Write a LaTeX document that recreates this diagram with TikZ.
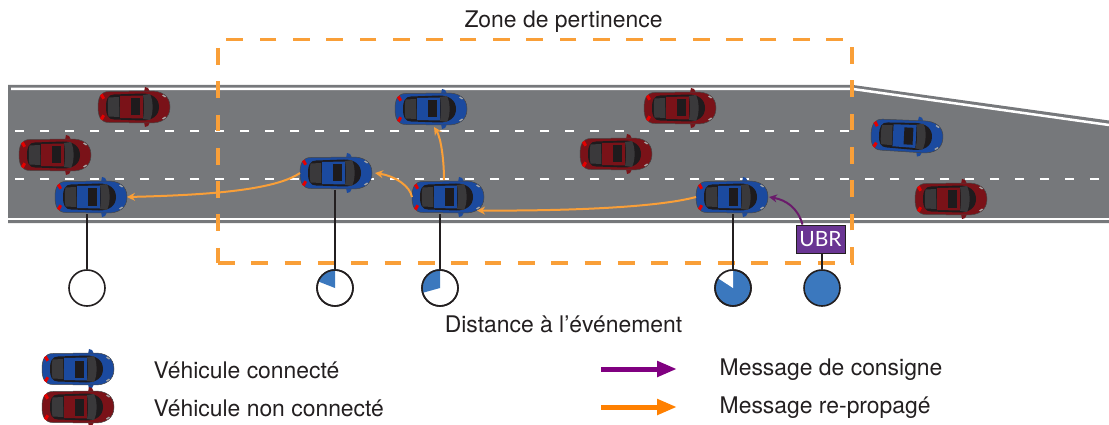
\documentclass[tikz,border=0pt]{standalone}
\usepackage{fontspec}
\setmainfont{TeX Gyre Heros}
\newfontfamily\ubrfont{Lato}
\usetikzlibrary{arrows.meta}
\definecolor{road}{HTML}{76787B}
\definecolor{zone}{HTML}{F99F38}
\definecolor{carblue}{HTML}{1B4A9F}
\definecolor{carred}{HTML}{7A1218}
\definecolor{cabin}{HTML}{1E1B1D}
\definecolor{glass}{HTML}{3A393B}
\definecolor{disc}{HTML}{3B78BE}
\definecolor{ubr}{HTML}{6A3593}
\definecolor{relay}{HTML}{F99F38}
\definecolor{order}{HTML}{6A1B6B}
\definecolor{inkline}{HTML}{231F20}
\definecolor{legendpurple}{HTML}{800080}
\definecolor{legendorange}{HTML}{FF8000}
\tikzset{
  carbox/.style={minimum width=72pt,minimum height=34pt,inner sep=0pt,outer sep=0pt},
  gauge/.style={circle,draw=inkline,line width=1.6pt,minimum size=36pt,inner sep=0pt},
  stem/.style={draw=inkline,line width=1.5pt},
  relayarrow/.style={draw=relay,line width=2pt,-{Stealth[length=8pt,width=8pt]}},
  orderarrow/.style={draw=order,line width=2pt,-{Stealth[length=8pt,width=8pt]}},
  txt/.style={font=\fontsize{22.9pt}{24pt}\selectfont,text=inkline,inner sep=0pt},
  lane/.style={draw=white,line width=2.5pt,dash pattern=on 8.5pt off 16.5pt},
  legendarrow/.style={line width=5pt,-{Triangle[length=20pt,width=15pt]}},
}
% name, x, y, body colour, rotation (screen clockwise positive)
\newcommand{\vehicle}[5]{%
  \node[carbox] (#1) at (#2,#3) {};
  \begin{scope}[shift={(#2,#3)},rotate=-#5]
    \fill[#4] (10,-15) -- (11,-20) -- (14,-19) -- (16,-15) -- cycle;
    \fill[#4] (10,15) -- (11,20) -- (14,19) -- (16,15) -- cycle;
    \fill[#4,draw=gray!55!black,line width=.5pt]
      (-36,0) .. controls (-36,-10) and (-33,-15.5) .. (-25,-15.5)
      -- (15,-16) .. controls (28,-16.5) and (36,-11) .. (36,0)
      .. controls (36,11) and (28,16.5) .. (15,16)
      -- (-25,15.5) .. controls (-33,15.5) and (-36,10) .. (-36,0) -- cycle;
    \fill[cabin] (-28,0) .. controls (-28,-8) and (-26,-12.5) .. (-20,-12.5)
      -- (8,-13.5) .. controls (18,-13.5) and (25,-9) .. (25,0)
      .. controls (25,9) and (18,13.5) .. (8,13.5)
      -- (-20,12.5) .. controls (-26,12.5) and (-28,8) .. (-28,0) -- cycle;
    \fill[#4] (-14,-11) -- (9,-11.5) -- (9,11.5) -- (-14,11) -- cycle;
    \fill[glass] (-25.5,-9.5) -- (-15,-10) -- (-14.5,10) -- (-25.5,9.5)
      .. controls (-26.5,4) and (-26.5,-4) .. (-25.5,-9.5) -- cycle;
    \fill[glass] (9,-12) -- (16,-13) .. controls (19.5,-6) and (19.5,6) .. (16,13)
      -- (9,12) .. controls (10.5,5) and (10.5,-5) .. (9,-12) -- cycle;
    \fill[cabin] (-3,-8.5) rectangle (6,8.5);
    \fill[red!90!black] (-34,-11.5) -- (-31.5,-13.5) -- (-29,-9) -- (-31.5,-7.5) -- cycle;
    \fill[red!90!black] (-34,11.5) -- (-31.5,13.5) -- (-29,9) -- (-31.5,7.5) -- cycle;
    \fill[gray!70] (29,-12.5) -- (32,-10.5) -- (31,-9.5) -- (28,-11.5) -- cycle;
    \fill[gray!70] (29,12.5) -- (32,10.5) -- (31,9.5) -- (28,11.5) -- cycle;
  \end{scope}}
\begin{document}
\begin{tikzpicture}[x=1pt,y=-1pt]
\useasboundingbox (0,0) rectangle (1109,425);
% road
\fill[road] (8,85) -- (853,85) -- (1109,120.5) -- (1109,223) -- (8,223) -- cycle;
\draw[white,line width=2.5pt] (11,89) -- (853,89) -- (1109,125);
\draw[white,line width=2.5pt] (8,219) -- (1109,219);
\draw[lane] (15,131) -- (849,131);
\draw[lane] (15,179) -- (1099,179);
% cars
\vehicle{r1}{134}{107}{carred}{0}
\vehicle{r2}{55}{155}{carred}{0}
\vehicle{r3}{680}{108}{carred}{0}
\vehicle{r4}{616}{154}{carred}{0}
\vehicle{r5}{951}{199}{carred}{0}
\vehicle{b1}{91}{197}{carblue}{0}
\vehicle{b2}{336}{173}{carblue}{0}
\vehicle{b3}{431}{109}{carblue}{0}
\vehicle{b4}{448}{197}{carblue}{0}
\vehicle{b5}{732}{197}{carblue}{0}
\vehicle{b6}{907}{136}{carblue}{3}
\vehicle{lb}{78}{369}{carblue}{0}
\vehicle{lr}{78}{407}{carred}{0}
% zone
\draw[zone,line width=3.4pt,dash pattern=on 16.7pt off 16.63pt] (218,263) -- (852,263) -- (852,39.5) -- (218,39.5) -- cycle;
% gauges
\node[gauge,fill=white] (g1) at (87,288) {};
\node[gauge,fill=white] (g2) at (335,288) {};
\node[gauge,fill=white] (g3) at (440,288) {};
\node[gauge,fill=disc] (g4) at (733,288) {};
\node[gauge,fill=disc] (g5) at (822,288) {};
\fill[disc] (g2.center) -- (g2.90) arc[start angle=90,end angle=161,radius=18pt] -- cycle;
\fill[disc] (g3.center) -- (g3.90) arc[start angle=90,end angle=198,radius=18pt] -- cycle;
\fill[white] (g4.center) -- (g4.90) arc[start angle=90,end angle=149,radius=18pt] -- cycle;
\node[gauge] at (g2) {};
\node[gauge] at (g3) {};
\node[gauge] at (g4) {};
% UBR
\node[draw=inkline,line width=.8pt,fill=ubr,text=white,minimum width=49pt,minimum height=28pt,inner sep=0pt,font=\ubrfont\fontsize{21pt}{22pt}\selectfont] (ubr) at (820.5,239) {UBR};
% stems
\draw[stem] (b1.south -| g1.north) -- (g1.north);
\draw[stem] (b2.south -| g2.north) -- (g2.north);
\draw[stem] (b4.south -| g3.north) -- (g3.north);
\draw[stem] (b5.south -| g4.north) -- (g4.north);
\draw[stem] (ubr.south -| g5.north) -- (g5.north);
% messages
\draw[relayarrow] (b2.west) .. controls (275,190) and (210,195) .. (b1.east);
\draw[relayarrow] (b4.west) .. controls (410,186) and (395,176) .. ([xshift=3pt]b2.east);
\draw[relayarrow] ([xshift=-4pt]b4.north) .. controls (444,160) and (441,138) .. ([xshift=3pt,yshift=-1pt]b3.south);
\draw[relayarrow] (b5.west) .. controls (655,208) and (560,211) .. ([xshift=-7pt,yshift=-13.5pt]b4.east);
\draw[orderarrow] ([xshift=-18pt]ubr.north) .. controls (798,208) and (786,200) .. ([xshift=1pt]b5.east);
% text
\node[txt,anchor=base] (t1) at (563.5,28) {Zone de pertinence};
\node[txt,anchor=base] (t2) at (563.5,332) {Distance à l’événement};
\node[txt,anchor=base west] (t3) at (153.3,378) {Véhicule connecté};
\node[txt,anchor=base west] (t4) at (153.3,416) {Véhicule non connecté};
\node[txt,anchor=base west] (t5) at (719.5,375) {Message de consigne};
\node[txt,anchor=base west] (t6) at (719.5,413) {Message re-propagé};
% legend arrows
\coordinate (a1) at (601,369);\coordinate (a2) at (677,369);
\coordinate (a3) at (601,407);\coordinate (a4) at (677,407);
\draw[legendarrow,color=legendpurple] (a1) -- (a2);
\draw[legendarrow,color=legendorange] (a3) -- (a4);
\end{tikzpicture}
\end{document}
